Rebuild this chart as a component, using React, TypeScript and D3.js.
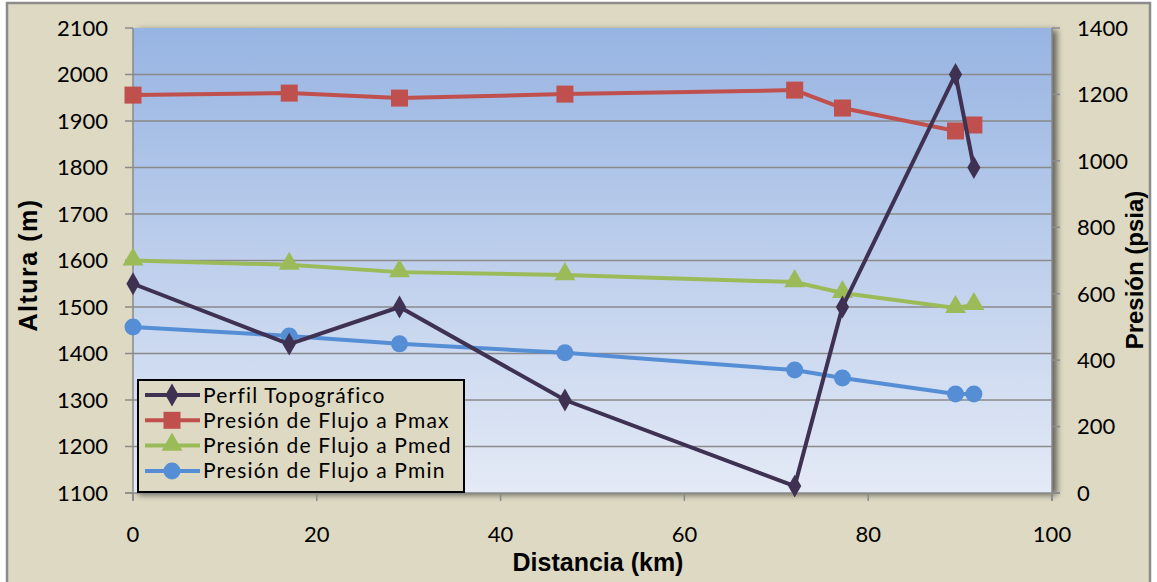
import React from 'react';
import * as d3 from 'd3';

// distance along the line (km)
const distancia = [0, 17, 29, 47, 72, 77.2, 89.5, 91.5];
// altitude profile (m)
const perfil = [1550, 1420, 1500, 1300, 1115, 1500, 2000, 1800];
// flowing pressures (psia)
const pmax = [1198, 1204, 1189, 1201, 1213, 1159, 1090, 1108];
const pmed = [700, 687, 665, 656, 635, 602, 557, 566];
const pmin = [500, 473, 449, 422, 370, 346, 298, 298];

const xTicks = [0, 20, 40, 60, 80, 100];
const altTicks = [1100, 1200, 1300, 1400, 1500, 1600, 1700, 1800, 1900, 2000, 2100];
const presTicks = [0, 200, 400, 600, 800, 1000, 1200, 1400];

const seriesNames = [
  'Perfil Topográfico',
  'Presión de Flujo a Pmax',
  'Presión de Flujo a Pmed',
  'Presión de Flujo a Pmin',
];

const W = 1157, H = 582;
const left = 133, right = 1052, top = 28, bottom = 493;
const font = 'Lato, "Open Sans", sans-serif';
const boldFont = 'Arial, "Liberation Sans", sans-serif';

export default function App() {
  const x = d3.scaleLinear().domain([0, 100]).range([left, right]);
  const yAlt = d3.scaleLinear().domain([1100, 2100]).range([bottom, top]);
  const yPres = d3.scaleLinear().domain([0, 1400]).range([bottom, top]);

  const lineAlt = d3.line<number>().x((_, i) => x(distancia[i])).y(d => yAlt(d));
  const linePres = d3.line<number>().x((_, i) => x(distancia[i])).y(d => yPres(d));

  const colors = ['#3F3151', '#C0504D', '#9BBB59', '#558ED5'];
  const diamond = d3.symbol().type(d3.symbolDiamond).size(150)() as string;
  const triangle = d3.symbol().type(d3.symbolTriangle).size(190)() as string;

  const marker = (k: number, cx: number, cy: number, key: string | number) => {
    const c = colors[k];
    if (k === 0) return <path key={key} d={diamond} transform={`translate(${cx},${cy})`} fill={c} />;
    if (k === 1) return <rect key={key} x={cx - 8.5} y={cy - 8.5} width={17} height={17} fill={c} />;
    if (k === 2) return <path key={key} d={triangle} transform={`translate(${cx},${cy - 1})`} fill={c} />;
    return <circle key={key} cx={cx} cy={cy} r={8.5} fill={c} />;
  };

  const presSeries = [pmax, pmed, pmin];

  return (
    <svg width={W} height={H} style={{ position: 'absolute', left: 0, top: 0, display: 'block' }}>
      <defs>
        <linearGradient id="plotBg" x1="0" y1="0" x2="0" y2="1">
          <stop offset="0%" stopColor="#97B4E2" />
          <stop offset="100%" stopColor="#E4EAF6" />
        </linearGradient>
        <filter id="shadow" x="-5%" y="-5%" width="115%" height="115%">
          <feGaussianBlur in="SourceAlpha" stdDeviation="3" />
          <feOffset dx="5" dy="2" result="b" />
          <feComponentTransfer><feFuncA type="linear" slope="0.55" /></feComponentTransfer>
          <feMerge><feMergeNode /><feMergeNode in="SourceGraphic" /></feMerge>
        </filter>
      </defs>

      <rect x={7} y={3} width={1143} height={590} fill="#DDD9C3" stroke="#8C8C8C" strokeWidth={2.5} />

      <rect x={left} y={top} width={right - left} height={bottom - top} fill="url(#plotBg)" filter="url(#shadow)" />

      {altTicks.map(t => (
        <g key={'g' + t}>
          {t !== 1100 && t !== 2100 && (
            <line x1={left} x2={right} y1={yAlt(t)} y2={yAlt(t)} stroke="#8A8A8A" strokeWidth={1.5} />
          )}
          <line x1={left - 8} x2={left} y1={yAlt(t)} y2={yAlt(t)} stroke="#8A8A8A" strokeWidth={1.5} />
          <text x={108} y={yAlt(t)} dy="0.36em" textAnchor="end" fontFamily={font} fontSize={22} fill="#000">{t}</text>
        </g>
      ))}
      <line x1={left} x2={left} y1={top} y2={bottom + 8} stroke="#8A8A8A" strokeWidth={1.5} />
      <line x1={left - 8} x2={right + 8} y1={bottom} y2={bottom} stroke="#8A8A8A" strokeWidth={1.5} />
      <line x1={right} x2={right} y1={top} y2={bottom + 8} stroke="#8A8A8A" strokeWidth={1.5} />

      {xTicks.map(t => (
        <g key={'x' + t}>
          <line x1={x(t)} x2={x(t)} y1={bottom} y2={bottom + 8} stroke="#8A8A8A" strokeWidth={1.5} />
          <text x={x(t)} y={542} textAnchor="middle" fontFamily={font} fontSize={22} fill="#000">{t}</text>
        </g>
      ))}

      {presTicks.map(t => (
        <g key={'p' + t}>
          <line x1={right} x2={right + 8} y1={yPres(t)} y2={yPres(t)} stroke="#8A8A8A" strokeWidth={1.5} />
          <text x={1077} y={yPres(t)} dy="0.36em" textAnchor="start" fontFamily={font} fontSize={22} fill="#000">{t}</text>
        </g>
      ))}

      <text transform="translate(37,265) rotate(-90)" textAnchor="middle" fontFamily={boldFont} fontWeight="bold" fontSize={25} letterSpacing={1.5}>Altura (m)</text>
      <text transform="translate(1143,270) rotate(-90)" textAnchor="middle" fontFamily={boldFont} fontWeight="bold" fontSize={24}>Presión (psia)</text>
      <text x={598} y={571} textAnchor="middle" fontFamily={boldFont} fontWeight="bold" fontSize={25}>Distancia (km)</text>

      {presSeries.map((s, k) => (
        <g key={'s' + k}>
          <path d={linePres(s) as string} fill="none" stroke={colors[k + 1]} strokeWidth={4} />
          {s.map((v, i) => marker(k + 1, x(distancia[i]), yPres(v), i))}
        </g>
      ))}

      <path d={lineAlt(perfil) as string} fill="none" stroke={colors[0]} strokeWidth={4} />
      {perfil.map((v, i) => marker(0, x(distancia[i]), yAlt(v), 'a' + i))}

      <g>
        <rect x={138} y={380} width={326} height={112} fill="#DDD9C3" stroke="#000" strokeWidth={2} />
        {seriesNames.map((n, k) => {
          const ly = 395 + k * 25.3;
          return (
            <g key={n}>
              <line x1={145} x2={200} y1={ly} y2={ly} stroke={colors[k]} strokeWidth={4} />
              {marker(k, 172, ly, 'l' + k)}
              <text x={203} y={ly} dy="0.36em" fontFamily={font} fontSize={21} letterSpacing={1.2} fill="#000">{n}</text>
            </g>
          );
        })}
      </g>
    </svg>
  );
}
